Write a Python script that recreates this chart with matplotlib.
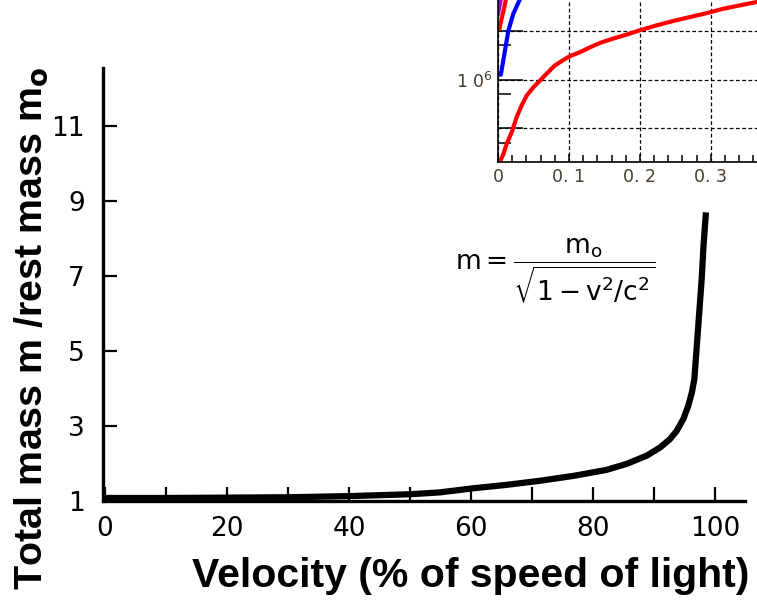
import matplotlib
matplotlib.use('Agg')
import matplotlib.pyplot as plt
import numpy as np

plt.rcParams['font.family'] = ['DejaVu Sans']
plt.rcParams['mathtext.fontset'] = 'dejavusans'

# main curve (velocity in % of c, mass ratio m/m0)
velocity = [0, 10, 20, 30, 40, 50, 54.9, 60.4, 65.8, 71.3, 76.8, 82.2, 85.5, 88.8,
            91.0, 92.6, 93.7, 94.8, 95.6, 96.2, 96.6, 97.0, 97.4, 97.8, 98.1, 98.5]
mass_ratio = [1.08, 1.08, 1.09, 1.10, 1.13, 1.18, 1.23, 1.34, 1.43, 1.54, 1.67, 1.83,
              1.99, 2.21, 2.43, 2.65, 2.87, 3.19, 3.54, 3.90, 4.25, 5.14, 6.03, 6.92,
              7.81, 8.70]
y_ticks = [1, 3, 5, 7, 9, 11]
x_ticks = [0, 20, 40, 60, 80, 100]

# inset (cropped corner of another plot), log10 of y
red_x = [0.0, 0.0019, 0.0075, 0.0122, 0.0193, 0.0263, 0.0333, 0.0404, 0.0498, 0.0592,
         0.0685, 0.0803, 0.0920, 0.1014, 0.1155, 0.1296, 0.1437, 0.1624, 0.1812,
         0.2000, 0.2235, 0.2469, 0.2704, 0.2939, 0.3174, 0.3408, 0.3648, 0.37]
red_logy = [4.25, 4.29, 4.47, 4.68, 4.92, 5.23, 5.47, 5.67, 5.84, 5.98, 6.12, 6.29,
            6.40, 6.48, 6.56, 6.66, 6.75, 6.84, 6.92, 7.01, 7.11, 7.20, 7.28, 7.36,
            7.45, 7.52, 7.59, 7.60]
blue_x = [0.0, 0.004, 0.0099, 0.0146, 0.0216, 0.031]
blue_logy = [6.10, 6.10, 6.60, 7.00, 7.35, 7.65]
red2_x = [0.002, 0.0045, 0.009, 0.0113]
red2_logy = [7.04, 7.21, 7.49, 7.65]
purple_x = [0.0, 0.004]
purple_logy = [7.35, 7.65]
inset_xlabels = ['0', '0. 1', '0. 2', '0. 3']

label_font = ['Liberation Sans', 'DejaVu Sans']

fig = plt.figure(figsize=(7.57, 6.04), dpi=100)
ax = fig.add_axes([103/757, 103/604, 642/757, 433/604])

ax.plot(velocity, mass_ratio, color='black', lw=4.5, solid_capstyle='butt')
ax.set_xlim(-0.33, 104.9)
ax.set_ylim(1.0, 12.55)
for s in ['top', 'right']:
    ax.spines[s].set_visible(False)
for s in ['left', 'bottom']:
    ax.spines[s].set_linewidth(2.4)

ax.set_yticks(y_ticks)
ax.set_xticks(np.arange(0, 101, 10))
ax.set_xticklabels([str(v) if v in x_ticks else '' for v in range(0, 101, 10)])
ax.tick_params(direction='in', length=10, width=1.6, labelsize=19, pad=13, color='black')
ax.tick_params(axis='x', pad=11)
ax.set_xlabel('Velocity (% of speed of light)', fontsize=29.5, fontweight='bold',
              family=label_font)
ax.xaxis.set_label_coords(0.573, -0.13)
ax.set_ylabel(r'Total mass m /rest mass m$_\mathbf{o}$', fontsize=28.4, fontweight='bold',
              family=label_font)
ax.yaxis.set_label_coords(-0.083, 0.40)

ax.text(73.8, 7.13, r'$\mathsf{m} = \dfrac{\mathsf{m_o}}{\sqrt{\mathsf{1 - v^2/c^2}}}$',
        fontsize=19, ha='center', va='center')

# inset in the top-right corner
ins = fig.add_axes([498/757, 442/604, 259/757, 162/604])
ins.set_facecolor('white')
ins.plot(red_x, red_logy, color='#ff0000', lw=3)
ins.plot(blue_x, blue_logy, color='#0000ff', lw=3)
ins.plot(red2_x, red2_logy, color='#ff0000', lw=3)
ins.plot(purple_x, purple_logy, color='#9900cc', lw=3)
ins.set_xlim(0, 0.365)
ins.set_ylim(4.31, 7.63)
for s in ['top', 'right']:
    ins.spines[s].set_visible(False)
for s in ['left', 'bottom']:
    ins.spines[s].set_linewidth(1.2)
ins.set_xticks([0, 0.1, 0.2, 0.3])
ins.set_xticklabels(inset_xlabels)
ins.set_xticks(np.arange(0.02, 0.37, 0.02), minor=True)
ins.set_yticks([5, 6, 7])
ins.set_yticklabels(['', r'1 0$^6$', ''])
ins.set_yticks(np.log10([5e4, 5e5, 5e6]), minor=True)
ins.grid(True, which='major', color='black', linestyle=(0, (3, 2)), lw=0.9)
ins.tick_params(which='major', direction='in', length=18, width=1.1, labelsize=12.5,
                labelcolor='#4a3b2b', pad=4)
ins.tick_params(which='minor', direction='in', length=9, width=1.1)
ins.tick_params(axis='x', which='major', length=6)
ins.tick_params(axis='x', which='minor', length=5)

fig.savefig('out.png', dpi=100, facecolor='white')
